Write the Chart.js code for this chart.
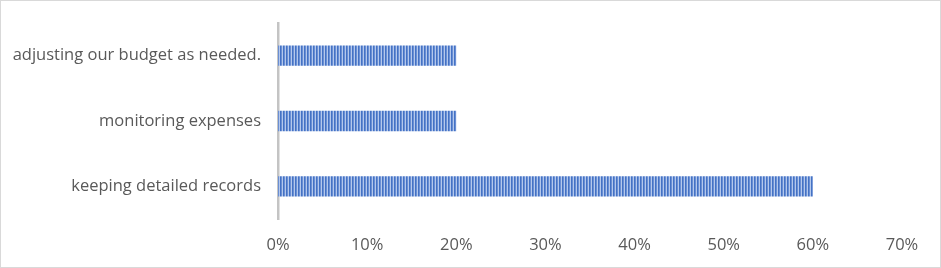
<!DOCTYPE html>
<html>
<head>
<meta charset="utf-8">
<script src="https://cdn.jsdelivr.net/npm/chart.js@4.4.0/dist/chart.umd.min.js"></script>
<style>
  html, body { margin: 0; padding: 0; background: #fff; }
  #wrap { position: relative; width: 939px; height: 266px; border: 1px solid #d9d9d9; }
</style>
</head>
<body>
<div id="wrap"><canvas id="chart"></canvas></div>
<script>
const categories = ['adjusting our budget as needed.', 'monitoring expenses', 'keeping detailed records'];
const shares = [0.20, 0.20, 0.60];
const xTicks = [0, 0.1, 0.2, 0.3, 0.4, 0.5, 0.6, 0.7];

// vertical stripe fill like the original bars
function stripes() {
  const c = document.createElement('canvas');
  c.width = 3; c.height = 1;
  const g = c.getContext('2d');
  g.fillStyle = '#4472c4'; g.fillRect(0, 0, 1, 1);
  g.fillStyle = '#6a8fd4'; g.fillRect(1, 0, 1, 1);
  g.fillStyle = '#b4c8ec'; g.fillRect(2, 0, 1, 1);
  return g.createPattern(c, 'repeat');
}

const font = { family: "'Open Sans', 'Noto Sans', sans-serif", size: 16.5 };

new Chart(document.getElementById('chart'), {
  type: 'bar',
  data: {
    labels: categories,
    datasets: [{
      data: shares,
      backgroundColor: stripes(),
      borderWidth: 0,
      barPercentage: 0.62,
      categoryPercentage: 0.5
    }]
  },
  options: {
    indexAxis: 'y',
    responsive: true,
    maintainAspectRatio: false,
    animation: false,
    layout: { padding: { left: 0, right: 38, top: 22, bottom: 0 } },
    plugins: { legend: { display: false }, tooltip: { enabled: false } },
    scales: {
      x: {
        min: 0, max: 0.7,
        afterBuildTicks: (s) => { s.ticks = xTicks.map(v => ({ value: v })); },
        grid: { display: false },
        border: { display: false },
        ticks: {
          color: '#595959', font, padding: 8,
          callback: (v) => Math.round(v * 100) + '%'
        },
        afterFit: (s) => { s.height = 48; }
      },
      y: {
        grid: { display: false },
        border: { display: true, color: '#c4c4c4', width: 2.5 },
        ticks: { color: '#595959', font, padding: 9 },
        afterFit: (s) => { s.width = 277; }
      }
    }
  }
});
</script>
</body>
</html>
